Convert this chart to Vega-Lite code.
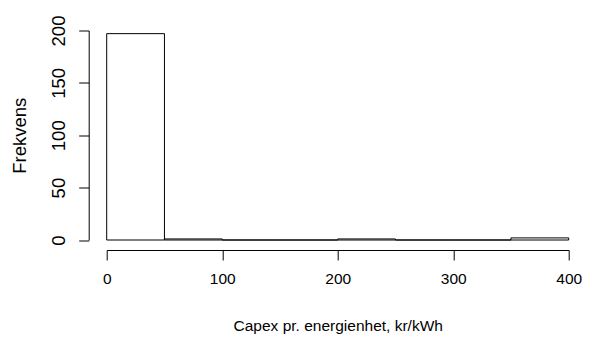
{
  "$schema": "https://vega.github.io/schema/vega-lite/v6.json",
  "autosize": "none",
  "width": 462,
  "height": 209.5,
  "padding": {"left": 106.7, "top": 30.5, "right": 21.3, "bottom": 107},
  "background": "white",
  "config": {
    "view": {"stroke": null},
    "font": "Liberation Sans",
    "axis": {
      "grid": false,
      "domainColor": "#000000",
      "tickColor": "#000000",
      "labelColor": "#000000",
      "titleColor": "#000000",
      "labelFont": "Liberation Sans",
      "titleFont": "Liberation Sans",
      "titleFontWeight": "normal",
      "labelFlush": false,
      "labelOverlap": false,
      "tickSize": 10,
      "domainWidth": 1,
      "tickWidth": 1
    }
  },
  "data": {
    "values": [
      {"bin_start": 0, "bin_end": 50, "count": 197},
      {"bin_start": 50, "bin_end": 100, "count": 1},
      {"bin_start": 100, "bin_end": 150, "count": 0},
      {"bin_start": 150, "bin_end": 200, "count": 0},
      {"bin_start": 200, "bin_end": 250, "count": 1},
      {"bin_start": 250, "bin_end": 300, "count": 0},
      {"bin_start": 300, "bin_end": 350, "count": 0},
      {"bin_start": 350, "bin_end": 400, "count": 2}
    ]
  },
  "mark": {"type": "rect", "fill": "white", "stroke": "black", "strokeWidth": 1},
  "encoding": {
    "x": {
      "field": "bin_start",
      "type": "quantitative",
      "scale": {"domain": [0, 400], "nice": false, "zero": false},
      "axis": {
        "values": [0, 100, 200, 300, 400],
        "offset": 10,
        "labelFontSize": 15.5,
        "titleFontSize": 15.5,
        "labelPadding": 11,
        "title": "Capex pr. energienhet, kr/kWh",
        "titlePadding": 32
      }
    },
    "x2": {"field": "bin_end"},
    "y": {
      "field": "count",
      "type": "quantitative",
      "scale": {"domain": [0, 200], "nice": false},
      "axis": {
        "values": [0, 50, 100, 150, 200],
        "offset": 18,
        "labelFontSize": 18.5,
        "titleFontSize": 18.5,
        "labelAngle": -90,
        "labelAlign": "center",
        "labelBaseline": "bottom",
        "labelPadding": 10,
        "title": "Frekvens",
        "titlePadding": 20
      }
    },
    "y2": {"datum": 0}
  }
}
